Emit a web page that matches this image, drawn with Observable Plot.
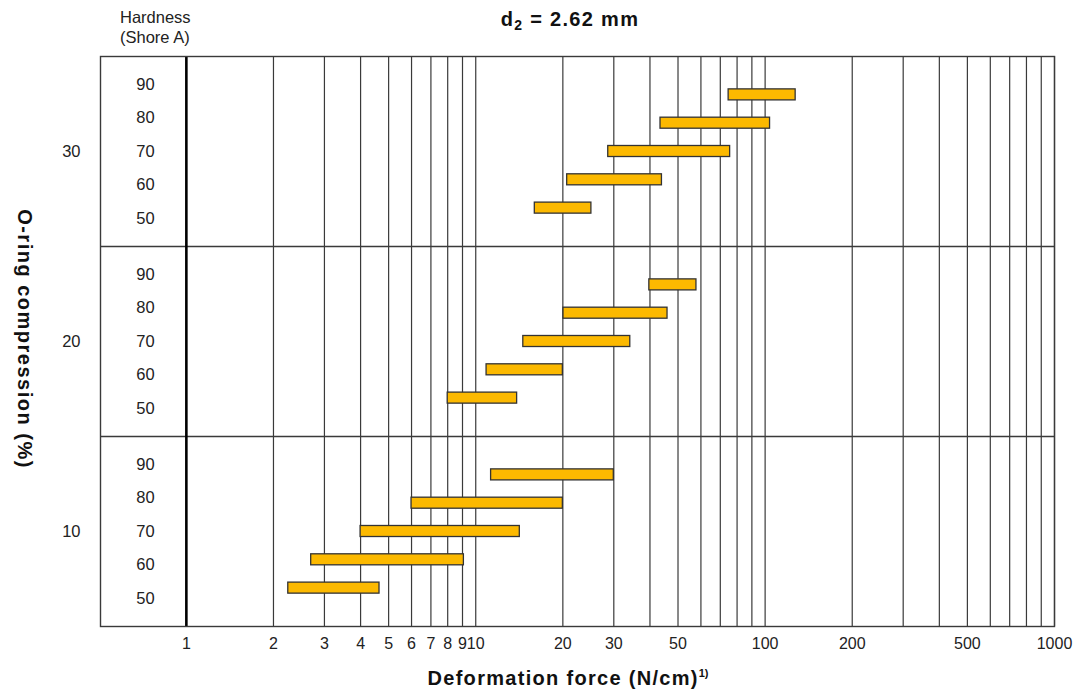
<!DOCTYPE html>
<html>
<head>
<meta charset="utf-8">
<script src="https://cdn.jsdelivr.net/npm/d3@7"></script>
<script src="https://cdn.jsdelivr.net/npm/@observablehq/plot@0.6"></script>
<style>
  html, body { margin: 0; padding: 0; background: #fff; }
  svg { display: block; }
</style>
</head>
<body>
<div id="chart"></div>
<script>
// ---- data ----
const hardness = [50, 60, 70, 80, 90];          // Shore A
const compression = [10, 20, 30];               // %
// deformation force ranges (N/cm), per hardness 50..90
const forceMin10 = [2.25, 2.7, 4.0, 6.0, 11.3];
const forceMax10 = [4.65, 9.1, 14.2, 20.0, 30.0];
const forceMin20 = [8.0, 10.9, 14.6, 20.1, 39.8];
const forceMax20 = [13.9, 20.0, 34.2, 46.0, 57.9];
const forceMin30 = [16.0, 20.7, 28.7, 43.5, 74.8];
const forceMax30 = [25.1, 44.0, 75.7, 104.0, 127.5];
const xTicks = [1, 2, 3, 4, 5, 6, 7, 8, 9, 10, 20, 30, 50, 100, 200, 500, 1000];
const gridValues = [2, 3, 4, 5, 6, 7, 8, 9, 10, 20, 30, 40, 50, 60, 70, 80, 90, 100,
                    200, 300, 400, 500, 600, 700, 800, 900, 1000];
const bandEdges = [15, 25];

// ---- build table ----
const mins = {10: forceMin10, 20: forceMin20, 30: forceMin30};
const maxs = {10: forceMax10, 20: forceMax20, 30: forceMax30};
const bars = [];
for (const c of compression) {
  hardness.forEach((h, i) => bars.push({c, h, k: (h - 70) / 10, lo: mins[c][i], hi: maxs[c][i]}));
}

const font = "'Liberation Sans', Arial, Helvetica, sans-serif";
const barStep = 1.49, labelStep = 1.76, halfH = 0.29;

const svg = Plot.plot({
  width: 1081,
  height: 695,
  marginLeft: 100,
  marginRight: 27,
  marginTop: 56,
  marginBottom: 69,
  style: {fontFamily: font, color: "#222", background: "#fff", overflow: "visible"},
  x: {type: "log", domain: [0.505, 1000], axis: null},
  y: {domain: [5, 35], axis: null},
  marks: [
    Plot.ruleX(gridValues, {stroke: "#3a3a3a", strokeWidth: 1.2}),
    Plot.ruleY(bandEdges, {stroke: "#3a3a3a", strokeWidth: 1.3}),
    Plot.ruleX([1], {stroke: "#000", strokeWidth: 2.6}),
    Plot.rect(bars, {
      x1: "lo", x2: "hi",
      y1: d => d.c + barStep * d.k - halfH,
      y2: d => d.c + barStep * d.k + halfH,
      fill: "#fcb900", stroke: "#333", strokeWidth: 1.3
    }),
    Plot.text(bars, {
      frameAnchor: "left", dx: 45, textAnchor: "middle",
      y: d => d.c + labelStep * d.k,
      text: d => String(d.h),
      fontSize: 16.5, fill: "#222"
    }),
    Plot.text(xTicks, {
      x: d => d, frameAnchor: "bottom", lineAnchor: "top", dy: 11,
      textAnchor: "middle", text: d => String(d), fontSize: 16, fill: "#222"
    }),
    Plot.text(compression, {
      y: d => d, frameAnchor: "left", dx: -20, textAnchor: "end",
      text: d => String(d), fontSize: 16.5, fill: "#222"
    }),
    Plot.frame({stroke: "#3a3a3a", strokeWidth: 1.4})
  ]
});

const s = d3.select(svg);
// hardness header
s.append("text").attr("x", 120).attr("y", 22.5).attr("text-anchor", "start")
  .attr("font-family", font).attr("font-size", 16.5).attr("fill", "#222").text("Hardness");
s.append("text").attr("x", 120).attr("y", 42.5).attr("text-anchor", "start")
  .attr("font-family", font).attr("font-size", 16.5).attr("fill", "#222").text("(Shore A)");

// title
const t = s.append("text").attr("x", 570).attr("y", 26).attr("text-anchor", "middle")
  .attr("font-family", font).attr("font-size", 20).attr("font-weight", "bold")
  .attr("letter-spacing", "1.3px").attr("fill", "#111");
t.append("tspan").text("d");
t.append("tspan").attr("font-size", 14).attr("dy", 4).text("2");
t.append("tspan").attr("dy", -4).text(" = 2.62 mm");

// x-axis title
const xt = s.append("text").attr("x", 568).attr("y", 685).attr("text-anchor", "middle")
  .attr("font-family", font).attr("font-size", 20).attr("font-weight", "bold")
  .attr("letter-spacing", "1.3px").attr("fill", "#111");
xt.append("tspan").text("Deformation force (N/cm)");
xt.append("tspan").attr("font-size", 11).attr("dy", -8).attr("letter-spacing", "0px").text("1)");

// y-axis title
s.append("text").attr("transform", "translate(18,339) rotate(90)")
  .attr("text-anchor", "middle").attr("font-family", font).attr("font-size", 20)
  .attr("font-weight", "bold").attr("letter-spacing", "1.5px").attr("fill", "#111")
  .text("O-ring compression (%)");

document.getElementById("chart").appendChild(svg);
</script>
</body>
</html>
